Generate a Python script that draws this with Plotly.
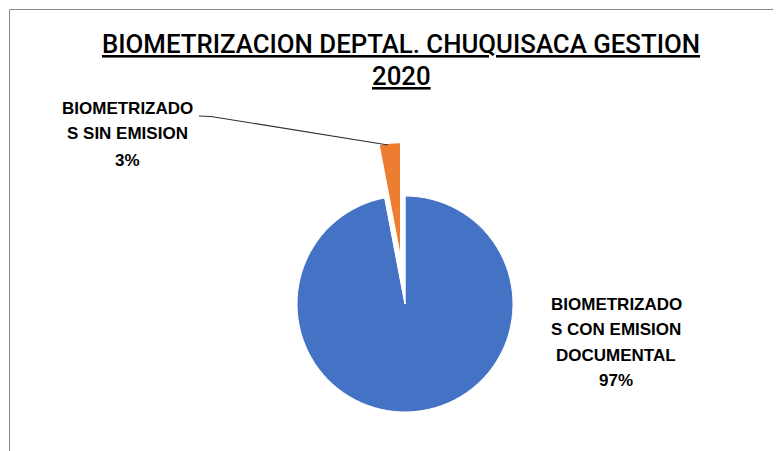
import math
import plotly.graph_objects as go

W, H = 781, 451

# ---- data ----
categories = ["BIOMETRIZADOS CON EMISION DOCUMENTAL", "BIOMETRIZADOS SIN EMISION"]
values = [97, 3]
percent_labels = ["97%", "3%"]
label_lines_con = ["BIOMETRIZADO", "S CON EMISION", "DOCUMENTAL"]
label_lines_sin = ["BIOMETRIZADO", "S SIN EMISION"]
title_lines = ["BIOMETRIZACION DEPTAL. CHUQUISACA GESTION", "2020"]

# ---- style ----
BLUE = "#4472C4"
ORANGE = "#ED7D31"
TRANSP = "rgba(0,0,0,0)"
FONT = "Liberation Sans"
OFF = 8  # page offset of the figure inside the window

def px(x):
    return (x - OFF) / W

def py(y):
    return 1 - (y - OFF) / H

cx, cy, r = 405, 304, 108
pull = 0.49
# bisector of the small slice (clockwise from 12 o'clock, drawn last)
frac_small = values[1] / sum(values)
bis = -frac_small * 360 / 2  # degrees from vertical, negative = to the left
ox = cx + pull * r * math.sin(math.radians(bis))
oy = cy - pull * r * math.cos(math.radians(bis))

def dom(x0, y0):
    return dict(x=[px(x0 - r), px(x0 + r)], y=[py(y0 + r), py(y0 - r)])

fig = go.Figure()
fig.add_trace(go.Pie(
    labels=categories, values=values, sort=False, direction="clockwise", rotation=0,
    marker=dict(colors=[BLUE, TRANSP], line=dict(color="white", width=1)),
    textinfo="none", hoverinfo="label+percent", showlegend=False, domain=dom(cx, cy),
))
fig.add_trace(go.Pie(
    labels=categories, values=values, sort=False, direction="clockwise", rotation=0,
    marker=dict(colors=[TRANSP, ORANGE], line=dict(color="rgba(255,255,255,0)", width=0)),
    textinfo="none", hoverinfo="label+percent", showlegend=False, domain=dom(ox, oy),
))

annotations = []
# title
for i, (t, yc) in enumerate(zip(title_lines, [44, 76])):
    annotations.append(dict(
        x=px(401), y=py(yc), xref="paper", yref="paper", text=f"<u>{t}</u>",
        showarrow=False, xanchor="center", yanchor="middle",
        font=dict(family="Roboto", size=25.8, color="#000000", weight=500),
    ))
# labels
lab_font = dict(family=FONT, size=17, color="#000000")
sin_lines = label_lines_sin + [percent_labels[1]]
for t, yc in zip(sin_lines, [109, 134, 160]):
    annotations.append(dict(x=px(128), y=py(yc), xref="paper", yref="paper",
                            text=f"<b>{t}</b>", showarrow=False, xanchor="center",
                            yanchor="middle", font=lab_font))
con_lines = label_lines_con + [percent_labels[0]]
for t, yc in zip(con_lines, [304, 329, 355, 380]):
    annotations.append(dict(x=px(616), y=py(yc), xref="paper", yref="paper",
                            text=f"<b>{t}</b>", showarrow=False, xanchor="center",
                            yanchor="middle", font=lab_font))

shapes = [
    # chart area border
    dict(type="rect", xref="paper", yref="paper", x0=px(9.5), x1=1.05, y0=-0.05, y1=py(9.5),
         line=dict(color="#898989", width=1), fillcolor="rgba(0,0,0,0)", layer="below"),
    # leader line
    dict(type="path", xref="paper", yref="paper",
         path=f"M {px(199)},{py(116)} L {px(211)},{py(116.5)} L {px(388)},{py(145)}",
         line=dict(color="#303030", width=1.2)),
]

fig.update_layout(
    width=W, height=H, margin=dict(l=0, r=0, t=0, b=0),
    paper_bgcolor="white", plot_bgcolor="white",
    annotations=annotations, shapes=shapes, showlegend=False,
)

fig.write_html("out.html")
